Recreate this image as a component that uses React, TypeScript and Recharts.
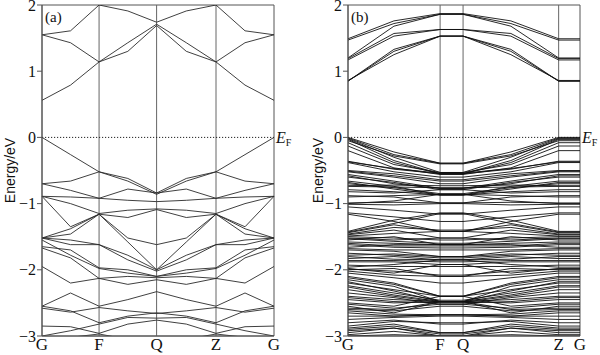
import React from 'react';
import { LineChart, Line, XAxis, YAxis, ReferenceLine, ReferenceArea } from 'recharts';

const SERIF = "'Liberation Serif', 'Times New Roman', Times, serif";
const SANS = "'Liberation Sans', Arial, Helvetica, sans-serif";

// ---------- Panel (a) ----------
const kPathA = [0, 0.123, 0.246, 0.37, 0.494, 0.622, 0.75, 0.875, 1.0];
const kTicksA = [0, 0.246, 0.494, 0.75, 1.0];
const kLabels = ['G', 'F', 'Q', 'Z', 'G'];

const bandsA: number[][] = [
  [0.56, 0.79, 1.14, 1.30, 1.69, 1.30, 1.14, 0.79, 0.56],
  [1.55, 1.43, 1.14, 1.43, 1.71, 1.43, 1.14, 1.43, 1.55],
  [1.55, 1.61, 2.00, 1.91, 1.74, 1.91, 2.00, 1.61, 1.55],
  [0.00, -0.26, -0.52, -0.62, -0.84, -0.62, -0.52, -0.26, 0.00],
  [-0.70, -0.66, -0.52, -0.66, -0.86, -0.66, -0.52, -0.66, -0.70],
  [-0.70, -0.80, -0.92, -0.78, -0.84, -0.78, -0.92, -0.80, -0.70],
  [-0.89, -0.90, -0.92, -0.95, -0.97, -0.95, -0.92, -0.90, -0.89],
  [-0.89, -1.00, -1.15, -1.10, -1.08, -1.10, -1.15, -1.00, -0.89],
  [-0.89, -1.35, -1.16, -1.21, -1.09, -1.21, -1.16, -1.35, -0.89],
  [-1.52, -1.38, -1.16, -1.52, -1.62, -1.52, -1.16, -1.38, -1.52],
  [-1.52, -1.46, -1.16, -1.58, -2.00, -1.58, -1.16, -1.46, -1.52],
  [-1.52, -1.55, -1.62, -1.78, -2.00, -1.78, -1.62, -1.55, -1.52],
  [-1.52, -1.62, -1.62, -1.85, -2.02, -1.85, -1.62, -1.62, -1.52],
  [-1.65, -1.70, -1.97, -2.00, -2.10, -2.00, -1.97, -1.70, -1.65],
  [-1.67, -1.82, -2.13, -2.10, -2.12, -2.10, -2.13, -1.82, -1.67],
  [-1.95, -2.20, -2.13, -2.22, -2.15, -2.22, -2.13, -2.20, -1.95],
  [-1.55, -1.78, -1.98, -2.05, -2.10, -2.05, -1.98, -1.78, -1.55],
  [-2.55, -2.35, -2.55, -2.45, -2.33, -2.45, -2.55, -2.35, -2.55],
  [-2.55, -2.62, -2.80, -2.70, -2.65, -2.70, -2.80, -2.62, -2.55],
  [-2.58, -2.64, -2.57, -2.62, -2.66, -2.62, -2.57, -2.64, -2.58],
  [-2.85, -2.86, -2.96, -2.82, -2.76, -2.82, -2.96, -2.86, -2.85],
  [-3.00, -2.92, -2.82, -2.72, -2.73, -2.72, -2.82, -2.92, -3.00],
  [-3.05, -3.02, -2.97, -3.05, -3.12, -3.05, -2.97, -3.02, -3.05],
];

// ---------- Panel (b) ----------
const kPathB = [0, 0.198, 0.397, 0.496, 0.702, 0.908, 1.0];
const kTicksB = [0, 0.397, 0.496, 0.908, 1.0];

// energies read at G (= Z), at the G-F / Q-Z kink, and at F (= Q)
const bandsBAtG = [
  0.85, 0.85, 0.86, 1.17, 1.19, 1.20, 1.47, 1.49,
  0.00, -0.01, -0.02, -0.03, -0.08, -0.13, -0.20, -0.36, -0.38, -0.50,
  -0.52, -0.56, -0.58, -0.66, -0.68, -0.73, -0.79, -0.82, -0.88, -0.99,
  -1.00, -1.14, -1.16, -1.42, -1.44, -1.47, -1.49, -1.52, -1.55, -1.58,
  -1.62, -1.66, -1.70, -1.78, -1.80, -1.83, -1.88, -1.96, -1.98, -2.00,
  -2.02, -2.10, -2.15, -2.18, -2.20, -2.26, -2.40, -2.45, -2.50, -2.55,
  -2.58, -2.62, -2.65, -2.70, -2.85, -2.88, -2.90, -2.95, -2.98, -3.00,
  -0.05, -0.37, -0.51, -0.60, -0.70, -0.74, -0.90, -1.01, -1.05, -1.43,
  -1.46, -1.50, -1.53, -1.60, -1.68, -1.75, -1.86, -1.93, -1.99, -2.05,
  -2.12, -2.24, -2.30, -2.35, -2.42, -2.52, -2.60, -2.75, -2.80, -2.92,
];
const bandsBAtMid = [
  1.33, 1.30, 1.25, 1.53, 1.57, 1.68, 1.72, 1.76,
  -0.22, -0.26, -0.30, -0.35, -0.38, -0.41, -0.46, -0.48, -0.52, -0.55,
  -0.60, -0.66, -0.70, -0.74, -0.78, -0.72, -0.82, -0.84, -0.90, -0.98,
  -0.96, -1.20, -1.27, -1.25, -1.32, -1.40, -1.45, -1.55, -1.50, -1.60,
  -1.66, -1.62, -1.72, -1.76, -1.84, -1.80, -1.88, -1.92, -2.05, -1.98,
  -2.08, -2.20, -2.25, -2.32, -2.30, -2.38, -2.45, -2.50, -2.55, -2.65,
  -2.60, -2.67, -2.70, -2.70, -2.78, -2.82, -2.85, -2.88, -2.93, -2.98,
  -0.28, -0.47, -0.58, -0.68, -0.76, -0.75, -0.88, -1.02, -1.10, -1.30,
  -1.36, -1.52, -1.57, -1.64, -1.70, -1.78, -1.86, -1.95, -2.02, -2.12,
  -2.22, -2.35, -2.40, -2.42, -2.48, -2.58, -2.62, -2.72, -2.76, -2.88,
];
const bandsBAtF = [
  1.53, 1.53, 1.53, 1.63, 1.63, 1.86, 1.86, 1.87,
  -0.39, -0.39, -0.53, -0.55, -0.55, -0.53, -0.56, -0.55, -0.60, -0.64,
  -0.70, -0.77, -0.77, -0.87, -0.87, -0.73, -0.87, -0.79, -0.99, -0.99,
  -0.86, -1.27, -1.42, -1.14, -1.42, -1.52, -1.42, -1.52, -1.62, -1.62,
  -1.67, -1.62, -1.80, -1.80, -1.85, -1.85, -1.92, -1.85, -1.92, -2.10,
  -2.10, -2.40, -2.48, -2.48, -2.40, -2.48, -2.48, -2.48, -2.40, -2.48,
  -2.48, -2.68, -2.68, -2.68, -2.80, -2.95, -2.95, -3.00, -3.00, -3.00,
  -0.40, -0.54, -0.66, -0.79, -0.85, -0.76, -0.86, -1.00, -1.16, -1.15,
  -1.40, -1.55, -1.60, -1.64, -1.70, -1.82, -1.88, -1.95, -2.08, -2.20,
  -2.40, -2.46, -2.49, -2.52, -2.50, -2.52, -2.55, -2.70, -2.82, -2.97,
];

const rowsA = kPathA.map((k, i) => {
  const row: Record<string, number> = { k };
  bandsA.forEach((b, j) => { row['b' + j] = b[i]; });
  return row;
});

const bandsB = bandsBAtG.map((g, j) => {
  const m = bandsBAtMid[j];
  const f = bandsBAtF[j];
  return [g, m, f, f, m, g, g]; // G, kink, F, Q, kink, Z, G
});

const rowsB = kPathB.map((k, i) => {
  const row: Record<string, number> = { k };
  bandsB.forEach((b, j) => { row['b' + j] = b[i]; });
  return row;
});

const yTicks = [-3, -2, -1, 0, 1, 2];
const fmtY = (v: number) => (v < 0 ? '\u2212' + Math.abs(v) : String(v));

type PanelProps = {
  rows: Record<string, number>[];
  nBands: number;
  ticks: number[];
  tag: string;
  marginLeft: number;
  marginRight: number;
  yLabelX: number;
  strokeWidth: number;
  stroke: string;
};

function Panel({ rows, nBands, ticks, tag, marginLeft, marginRight, yLabelX, strokeWidth, stroke }: PanelProps) {
  const interior = ticks.slice(1, ticks.length - 1);
  return (
    <LineChart
      width={300}
      height={355}
      data={rows}
      margin={{ top: 5, right: marginRight, bottom: 0, left: marginLeft }}
    >
      <XAxis
        type="number"
        dataKey="k"
        domain={[0, 1]}
        ticks={ticks}
        interval={0}
        tickFormatter={(v: number) => kLabels[ticks.indexOf(v)] ?? ''}
        tickLine={false}
        tickSize={0}
        tickMargin={2}
        height={19}
        axisLine={{ stroke: '#555' }}
        tick={{ fill: '#111', fontSize: 17, fontFamily: SERIF, style: { fontFamily: SERIF } }}
      />
      <YAxis
        type="number"
        domain={[-3, 2]}
        ticks={yTicks}
        interval={0}
        allowDataOverflow
        width={30}
        tickSize={5}
        tickMargin={1}
        tickFormatter={fmtY}
        axisLine={{ stroke: '#555' }}
        tickLine={{ stroke: '#555' }}
        tick={{ fill: '#111', fontSize: 16, fontFamily: SERIF, style: { fontFamily: SERIF } }}
        label={{
          content: (p: any) => {
            const vb = p.viewBox || { y: 5, height: 331 };
            const cy = vb.y + vb.height / 2;
            return (
              <text
                x={yLabelX}
                y={cy}
                textAnchor="middle"
                dominantBaseline="central"
                transform={`rotate(-90, ${yLabelX}, ${cy})`}
                fontSize={14}
                style={{ fontFamily: SANS }}
                fill="#111"
              >
                Energy/eV
              </text>
            );
          },
        }}
      />
      {interior.map((t, i) => (
        <ReferenceLine key={'v' + i} x={t} stroke="#666" strokeWidth={1} />
      ))}
      <ReferenceLine y={0} stroke="#222" strokeWidth={1} strokeDasharray="1.2 1.8" />
      {Array.from({ length: nBands }, (_, j) => (
        <Line
          key={'b' + j}
          dataKey={'b' + j}
          type="linear"
          dot={false}
          activeDot={false}
          stroke={stroke}
          strokeWidth={strokeWidth}
          isAnimationActive={false}
        />
      ))}
      <ReferenceArea
        x1={0}
        x2={1}
        y1={-3}
        y2={2}
        fill="none"
        fillOpacity={0}
        stroke="#555"
        strokeWidth={1}
        label={{
          content: (p: any) => {
            const vb = p.viewBox || { x: 0, y: 0, width: 0, height: 0 };
            const y0 = vb.y + vb.height * (2 / 5);
            const xr = vb.x + vb.width;
            return (
              <g style={{ fontFamily: SERIF }}>
                <text x={vb.x + 3} y={vb.y + 17} fontSize={15} fill="#111" style={{ fontFamily: SERIF }}>
                  {tag}
                </text>
                <text x={xr + 2} y={y0 + 6} fontSize={16} fill="#111" style={{ fontFamily: SERIF }}>
                  <tspan fontStyle="italic">E</tspan>
                  <tspan fontSize={10} dy={3}>F</tspan>
                </text>
              </g>
            );
          },
        }}
      />
    </LineChart>
  );
}

export default function App() {
  return (
    <div style={{ position: 'absolute', left: 0, top: 0, width: 600, height: 355, background: '#fff', display: 'flex' }}>
      <Panel
        rows={rowsA}
        nBands={bandsA.length}
        ticks={kTicksA}
        tag="(a)"
        marginLeft={12}
        marginRight={26}
        yLabelX={10}
        strokeWidth={0.9}
        stroke="#2a2a2a"
      />
      <Panel
        rows={rowsB}
        nBands={bandsB.length}
        ticks={kTicksB}
        tag="(b)"
        marginLeft={18}
        marginRight={20}
        yLabelX={18}
        strokeWidth={0.9}
        stroke="#111"
      />
    </div>
  );
}
